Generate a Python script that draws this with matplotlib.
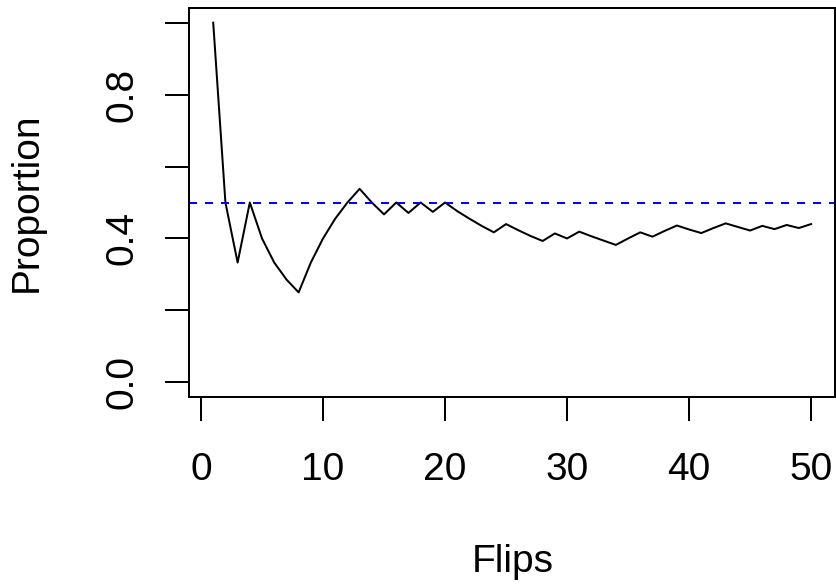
import numpy as np
import matplotlib
matplotlib.use("Agg")
import matplotlib.pyplot as plt

plt.rcParams['font.family'] = ['Liberation Sans', 'DejaVu Sans']

# running proportion of heads after each flip
flips = list(range(1, 51))
proportion = [1.0, 0.5, 0.333, 0.5, 0.4, 0.333, 0.286, 0.25, 0.333, 0.4,
              0.455, 0.5, 0.538, 0.5, 0.467, 0.5, 0.471, 0.5, 0.474, 0.5,
              0.476, 0.455, 0.435, 0.417, 0.44, 0.423, 0.407, 0.393, 0.414, 0.4,
              0.419, 0.406, 0.394, 0.382, 0.4, 0.417, 0.405, 0.421, 0.436, 0.425,
              0.415, 0.429, 0.442, 0.432, 0.422, 0.435, 0.426, 0.4375, 0.429, 0.44]
target = 0.5
xticks = [0, 10, 20, 30, 40, 50]
yticks = [0.0, 0.2, 0.4, 0.6, 0.8, 1.0]
ylabels = ['0.0', '', '0.4', '', '0.8', '']

W, H = 837, 586
fig = plt.figure(figsize=(W / 100, H / 100), dpi=100)
ax = fig.add_axes([189.3 / W, 1 - 396.7 / H, (835 - 189.3) / W, (396.7 - 8.3) / H])

lw = 1.44
ax.plot(flips, proportion, color='black', lw=lw)
ax.axhline(target, color='blue', lw=lw, linestyle=(0, (4, 4)))

ax.set_xlim(1 - 0.04 * 49, 50 + 0.04 * 49)
ax.set_ylim(-0.04, 1.04)
ax.set_xticks(xticks)
ax.set_xticklabels([str(t) for t in xticks])
ax.set_yticks(yticks)
ax.set_yticklabels(ylabels, rotation=90, va='center')

for s in ax.spines.values():
    s.set_linewidth(lw)
ax.tick_params(length=17, width=lw, labelsize=28, direction='out')
ax.tick_params(axis='x', pad=23)
ax.tick_params(axis='y', pad=18)

fig.text(512.5 / W, 1 - 561.7 / H, 'Flips', ha='center', va='center', fontsize=28)
fig.text(26.7 / W, 1 - 202 / H, 'Proportion', ha='center', va='center',
         rotation=90, fontsize=28)

fig.savefig('out.png', dpi=100)
